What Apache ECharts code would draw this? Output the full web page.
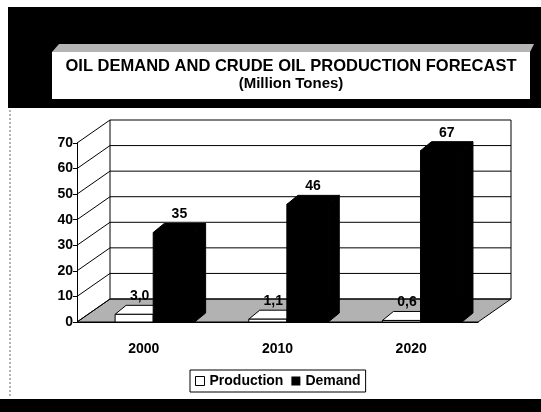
<!DOCTYPE html>
<html lang="en">
<head>
  <meta charset="UTF-8" />
  <title>Oil demand and crude oil production forecast</title>
  <script src="https://cdn.jsdelivr.net/npm/echarts@6/dist/echarts.min.js"></script>
  <style>
    body { margin: 0; padding: 0; background: #fff; }
    #chart { width: 541px; height: 412px; }
  </style>
</head>
<body>
  <div id="chart"></div>

  <script>
    // data
    const years = ['2000', '2010', '2020'];
    const production = [3.0, 1.1, 0.6];
    const demand = [35, 46, 67];
    const yTicks = [0, 10, 20, 30, 40, 50, 60, 70];

    const FONT = 'Liberation Sans, Arial, sans-serif';
    // depth of the fake 3d walls and of the bars
    const DX = 33, DY = -23;
    const BDX = 11, BDY = -9;

    const chart = echarts.init(document.getElementById('chart'));

    // back wall, left wall and floor, one item per tick value
    function renderWalls(params, api) {
      const cs = params.coordSys;
      const x0 = cs.x, x1 = cs.x + cs.width;
      const v = api.value(1);
      const y = api.coord([0, v])[1];
      const yBase = api.coord([0, 0])[1];
      const line = { stroke: '#000', lineWidth: 1 };
      const children = [];
      if (v === 0) {
        children.push({
          type: 'polygon',
          shape: { points: [[x0, y], [x1, y], [x1 + DX, y + DY], [x0 + DX, y + DY]] },
          style: { fill: '#b2b2b2', stroke: '#000', lineWidth: 1 }
        });
      }
      children.push({ type: 'line', shape: { x1: x0 + DX, y1: y + DY, x2: x1 + DX, y2: y + DY }, style: line });
      children.push({ type: 'line', shape: { x1: x0, y1: y, x2: x0 + DX, y2: y + DY }, style: line });
      if (v === yTicks[yTicks.length - 1]) {
        children.push({ type: 'line', shape: { x1: x0 + DX, y1: y + DY, x2: x0 + DX, y2: yBase + DY }, style: line });
        children.push({ type: 'line', shape: { x1: x1 + DX, y1: y + DY, x2: x1 + DX, y2: yBase + DY }, style: line });
      }
      return { type: 'group', children: children };
    }

    function makeBarRenderer(from, to, fill, fmt) {
      return function (params, api) {
        const i = api.value(0);
        const v = api.value(1);
        const band = api.size([1, 0])[0];
        const top = api.coord([i, v]);
        const y0 = api.coord([i, 0])[1];
        const start = top[0] - band / 2;
        const xa = start + band * from;
        const xb = start + band * to;
        const yt = top[1];
        const st = { fill: fill, stroke: '#000', lineWidth: 1 };
        return {
          type: 'group',
          children: [
            { type: 'polygon', shape: { points: [[xb, yt], [xb + BDX, yt + BDY], [xb + BDX, y0 + BDY], [xb, y0]] }, style: st },
            { type: 'polygon', shape: { points: [[xa, yt], [xb, yt], [xb + BDX, yt + BDY], [xa + BDX, yt + BDY]] }, style: st },
            { type: 'rect', shape: { x: xa, y: yt, width: xb - xa, height: y0 - yt }, style: st },
            {
              type: 'text',
              style: {
                text: fmt(v),
                x: (xa + xb) / 2 + BDX / 2,
                y: yt + BDY - 2,
                textAlign: 'center',
                textVerticalAlign: 'bottom',
                font: 'bold 14px ' + FONT,
                fill: '#000'
              }
            }
          ]
        };
      };
    }

    chart.setOption({
      animation: false,
      backgroundColor: '#fff',
      graphic: [
        { type: 'rect', z: -10, shape: { x: 8, y: 7, width: 533, height: 101 }, style: { fill: '#000' } },
        { type: 'polygon', z: -9, shape: { points: [[52, 52], [59, 44], [534, 44], [530, 52]] }, style: { fill: '#b4b4b4' } },
        { type: 'rect', z: -9, shape: { x: 52, y: 52, width: 478, height: 47 }, style: { fill: '#fff' } },
        { type: 'rect', z: -10, shape: { x: 0, y: 399, width: 541, height: 13 }, style: { fill: '#000' } },
        { type: 'line', z: -10, shape: { x1: 10, y1: 110, x2: 10, y2: 398 }, style: { stroke: '#666', lineWidth: 1, lineDash: [2, 2] } }
      ],
      title: {
        text: 'OIL DEMAND AND CRUDE OIL PRODUCTION FORECAST',
        subtext: '(Million Tones)',
        left: 286,
        top: 53,
        textAlign: 'center',
        itemGap: 1,
        textStyle: { fontFamily: FONT, fontWeight: 'bold', fontSize: 16.5, color: '#000' },
        subtextStyle: { fontFamily: FONT, fontWeight: 'bold', fontSize: 15, color: '#000' }
      },
      legend: {
        data: [
          { name: 'Production', itemStyle: { color: '#fff', borderColor: '#000', borderWidth: 1 } },
          { name: 'Demand', itemStyle: { color: '#000' } }
        ],
        icon: 'rect',
        left: 190,
        top: 370,
        itemWidth: 9,
        itemHeight: 9,
        itemGap: 8,
        padding: [4, 5],
        backgroundColor: '#fff',
        borderColor: '#000',
        borderWidth: 1,
        borderRadius: 0,
        textStyle: { fontFamily: FONT, fontWeight: 'bold', fontSize: 14, color: '#000' }
      },
      grid: { left: 77, right: 63, top: 143, bottom: 90 },
      xAxis: {
        type: 'category',
        data: years,
        axisLine: { lineStyle: { color: '#000' } },
        axisTick: { length: 8, lineStyle: { color: '#000' } },
        axisLabel: { margin: 20, fontFamily: FONT, fontWeight: 'bold', fontSize: 14, color: '#000' }
      },
      yAxis: {
        type: 'value',
        min: 0,
        max: 70,
        interval: 10,
        axisLine: { show: true, lineStyle: { color: '#000' } },
        axisTick: { show: true, length: 4, lineStyle: { color: '#000' } },
        axisLabel: { margin: 4, fontFamily: FONT, fontWeight: 'bold', fontSize: 14, color: '#000' },
        splitLine: { show: false }
      },
      series: [
        {
          name: 'walls',
          type: 'custom',
          clip: false,
          silent: true,
          renderItem: renderWalls,
          data: yTicks.map(v => [0, v])
        },
        {
          name: 'Production',
          type: 'custom',
          clip: false,
          itemStyle: { color: '#fff', borderColor: '#000' },
          renderItem: makeBarRenderer(0.285, 0.57, '#fff', v => v.toFixed(1).replace('.', ',')),
          data: production.map((v, i) => [i, v])
        },
        {
          name: 'Demand',
          type: 'custom',
          clip: false,
          itemStyle: { color: '#000' },
          renderItem: makeBarRenderer(0.57, 0.88, '#000', v => String(v)),
          data: demand.map((v, i) => [i, v])
        }
      ]
    });
  </script>
</body>
</html>
